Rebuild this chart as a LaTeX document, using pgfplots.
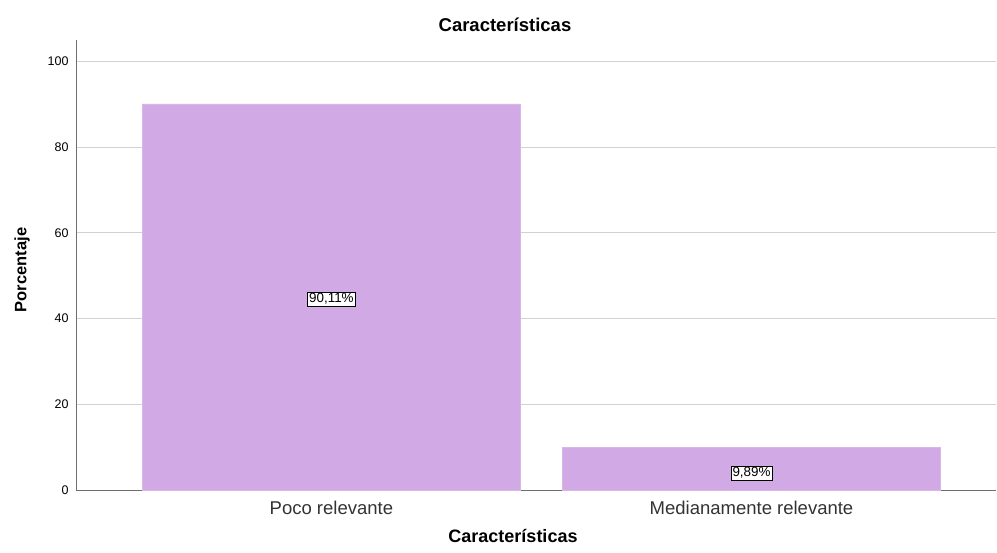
\documentclass[border=0pt]{standalone}
\usepackage{pgfplots}
\pgfplotsset{compat=1.18}
\usepackage{fontspec}
\setmainfont{Liberation Sans}
\definecolor{barc}{RGB}{209,169,228}
\definecolor{gridc}{RGB}{210,210,210}
\definecolor{axc}{RGB}{110,110,110}
\begin{document}
\begin{tikzpicture}[x=1bp,y=1bp]
\begin{axis}[
  scale only axis,
  width=920bp, height=450bp,
  xmin=-0.608, xmax=1.582,
  ymin=0, ymax=105,
  axis lines*=left,
  axis line style={draw=axc, line width=0.8bp, -},
  xtick={0,1},
  xticklabels={Poco relevante, Medianamente relevante},
  ytick={0,20,40,60,80,100},
  ymajorgrids,
  grid style={draw=gridc, line width=0.8bp},
  major tick length=0pt,
  tick style={draw=none},
  x tick label style={font=\fontsize{18.5bp}{20bp}\selectfont, text=black!80, yshift=-8bp},
  y tick label style={font=\fontsize{12.5bp}{14bp}\selectfont, xshift=-4bp},
  /pgf/number format/assume math mode=true,
  title={\textbf{Características}},
  title style={font=\fontsize{18.5bp}{20bp}\selectfont, at={(axis description cs:0.4663,1)}, anchor=center, yshift=9bp},
  xlabel={\textbf{Características}},
  xlabel style={font=\fontsize{18bp}{20bp}\selectfont, at={(axis description cs:0.475,0)}, anchor=center, yshift=-46bp},
  ylabel={\textbf{Porcentaje}},
  ylabel style={font=\fontsize{16.5bp}{18bp}\selectfont, at={(axis description cs:-0.0587,0.489)}, anchor=center},
  clip=false,
]
\addplot[ybar, bar width=0.9, fill=barc, draw=barc!85!white] coordinates {(0,90.11) (1,9.89)};
\addplot[draw=none, mark=none, nodes near coords, point meta=explicit symbolic,
  every node near coord/.style={anchor=center, fill=white, draw=black, line width=0.6bp, inner sep=1.5bp, font=\fontsize{13.4bp}{15bp}\selectfont}]
  coordinates {(0,44.6) [90,11\%] (1,4.0) [9,89\%]};
\end{axis}
\path (current axis.south west) ++(-76bp,-63bp) rectangle ++(997bp,553bp);
\end{tikzpicture}
\end{document}
